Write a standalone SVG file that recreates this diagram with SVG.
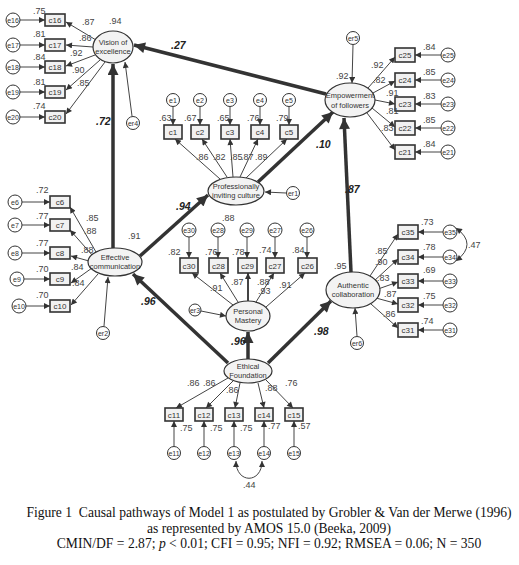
<svg xmlns="http://www.w3.org/2000/svg" width="519" height="565" viewBox="0 0 519 565">
<defs>
<marker id="a" viewBox="0 0 10 10" refX="10" refY="5" markerWidth="8" markerHeight="6" markerUnits="userSpaceOnUse" orient="auto-start-reverse"><path d="M0,0 L10,5 L0,10 z" fill="#333"/></marker>
<marker id="b" viewBox="0 0 10 10" refX="10" refY="5" markerWidth="13" markerHeight="11" markerUnits="userSpaceOnUse" orient="auto"><path d="M0,0 L10,5 L0,10 z" fill="#333"/></marker>
</defs>
<style>
.t{stroke:#444;stroke-width:1;fill:none;marker-end:url(#a)}
.k{stroke:#333;stroke-width:3.5;fill:none;marker-end:url(#b)}
.lv{fill:#f3f3f3;stroke:#333;stroke-width:1.2}
.ob{fill:#f1f1f1;stroke:#333;stroke-width:1.6}
.er{fill:#fff;stroke:#333;stroke-width:1}
text{font-family:"Liberation Sans",Arial,sans-serif;fill:#444}
.n{font-size:9px}
.bl{font-size:10.5px;font-weight:bold;font-style:italic;fill:#222}
.lt{font-size:7.5px;text-anchor:middle;fill:#333}
.ct{font-size:8px;text-anchor:middle;fill:#333}
.et{font-size:7px;text-anchor:middle;fill:#333}
.cap{font-family:"Liberation Serif","Times New Roman",serif;font-size:13.6px;fill:#111;text-anchor:middle}
</style>
<rect width="519" height="565" fill="#fff"/>
<g id="connectors">
<path class="k" d="M326,94 L134,45"/>
<path class="k" d="M113,248 L113,64"/>
<path class="k" d="M140,256 L208,195"/>
<path class="k" d="M258,182 L333,112"/>
<path class="k" d="M351,272 L344,118"/>
<path class="k" d="M248,359 L248,332"/>
<path class="k" d="M228,363 L133,274"/>
<path class="k" d="M268,363 L331,301"/>
<path class="t" d="M96,40 L66,22"/><path class="t" d="M93,47 L66,45"/><path class="t" d="M95,55 L66,66"/><path class="t" d="M100,60 L66,90"/><path class="t" d="M105,62 L66,114"/>
<path class="t" d="M20,20 L45,20"/><path class="t" d="M20,45 L45,45"/><path class="t" d="M20,67 L45,67"/><path class="t" d="M20,92 L45,92"/><path class="t" d="M20,117 L45,117"/>
<path class="t" d="M132,116 L125,62"/>
<path class="t" d="M96,252 L70,207"/><path class="t" d="M93,256 L70,230"/><path class="t" d="M89,261 L71,256"/><path class="t" d="M92,268 L71,283"/><path class="t" d="M98,274 L71,305"/>
<path class="t" d="M22,202 L50,202"/><path class="t" d="M22,225 L50,225"/><path class="t" d="M22,253 L50,253"/><path class="t" d="M24,279 L50,279"/><path class="t" d="M26,306 L50,306"/>
<path class="t" d="M104,326 L108,277"/>
<path class="t" d="M220,179 L175,139"/><path class="t" d="M227,177 L202,139"/><path class="t" d="M233,177 L230,139"/><path class="t" d="M240,177 L258,139"/><path class="t" d="M246,178 L287,139"/>
<path class="t" d="M173,107 L173,125"/><path class="t" d="M200,107 L200,125"/><path class="t" d="M230,107 L230,125"/><path class="t" d="M260,107 L260,125"/><path class="t" d="M289,107 L289,125"/>
<path class="t" d="M286,193 L265,192"/>
<path class="t" d="M368,88 L395,57"/><path class="t" d="M373,93 L395,81"/><path class="t" d="M375,100 L395,104"/><path class="t" d="M372,108 L395,127"/><path class="t" d="M367,113 L395,150"/>
<path class="t" d="M441,55 L415,55"/><path class="t" d="M441,80 L415,80"/><path class="t" d="M441,104 L415,104"/><path class="t" d="M441,128 L415,128"/><path class="t" d="M441,152 L415,152"/>
<path class="t" d="M353,45 L352,83"/>
<path class="t" d="M370,276 L398,234"/><path class="t" d="M374,281 L398,259"/><path class="t" d="M378,289 L398,282"/><path class="t" d="M376,298 L398,304"/><path class="t" d="M371,304 L398,328"/>
<path class="t" d="M443,232 L418,232"/><path class="t" d="M443,257 L418,257"/><path class="t" d="M443,281 L418,281"/><path class="t" d="M443,305 L418,305"/><path class="t" d="M443,330 L418,330"/>
<path class="t" d="M456,228 Q478,244 456,261" style="marker-start:url(#a)"/>
<path class="t" d="M357,336 L355,308"/>
<path class="t" d="M233,305 L192,273"/><path class="t" d="M238,302 L220,273"/><path class="t" d="M248,301 L248,273" style="stroke-width:2"/><path class="t" d="M256,302 L274,273"/><path class="t" d="M266,307 L305,273"/>
<path class="t" d="M189,237 L189,258"/><path class="t" d="M218,237 L218,258"/><path class="t" d="M247,237 L247,258"/><path class="t" d="M275,237 L275,258"/><path class="t" d="M307,237 L307,258"/>
<path class="t" d="M201,311 L226,316"/>
<path class="t" d="M228,378 L176,408"/><path class="t" d="M233,381 L206,408"/><path class="t" d="M240,383 L235,408"/><path class="t" d="M258,383 L264,408"/><path class="t" d="M266,380 L293,408"/>
<path class="t" d="M174,446 L174,421"/><path class="t" d="M204,446 L204,421"/><path class="t" d="M234,446 L234,421"/><path class="t" d="M264,446 L264,421"/><path class="t" d="M294,446 L294,421"/>
<path class="t" d="M236,461 C236,484 262,484 262,461" style="marker-start:url(#a)"/>
</g>
<g id="vision"><ellipse class="lv" cx="113" cy="47" rx="20" ry="16"/><text class="lt" x="113" y="45">Vision of</text><text class="lt" x="113" y="54">excellence</text></g>
<g id="effective"><ellipse class="lv" cx="115" cy="262" rx="27" ry="14"/><text class="lt" x="115" y="260">Effective</text><text class="lt" x="115" y="269">communication</text></g>
<g id="professional"><ellipse class="lv" cx="236" cy="191" rx="28" ry="14"/><text class="lt" x="236" y="189">Professionally</text><text class="lt" x="236" y="198">inviting culture</text></g>
<g id="empowerment"><ellipse class="lv" cx="350" cy="100" rx="25" ry="17"/><text class="lt" x="350" y="98">Empowerment</text><text class="lt" x="350" y="108">of followers</text></g>
<g id="authentic"><ellipse class="lv" cx="353" cy="290" rx="27" ry="18"/><text class="lt" x="353" y="288">Authentic</text><text class="lt" x="353" y="297">collaboration</text></g>
<g id="mastery"><ellipse class="lv" cx="248" cy="316" rx="22" ry="15"/><text class="lt" x="248" y="314">Personal</text><text class="lt" x="248" y="323">Mastery</text></g>
<g id="ethical"><ellipse class="lv" cx="248" cy="371" rx="24" ry="12"/><text class="lt" x="248" y="369">Ethical</text><text class="lt" x="248" y="378">Foundation</text></g>
<g id="vision-items">
<rect class="ob" x="45" y="14" width="20" height="12"/><text class="ct" x="55" y="23">c16</text>
<rect class="ob" x="45" y="39" width="20" height="12"/><text class="ct" x="55" y="48">c17</text>
<rect class="ob" x="45" y="61" width="20" height="12"/><text class="ct" x="55" y="70">c18</text>
<rect class="ob" x="45" y="86" width="20" height="12"/><text class="ct" x="55" y="95">c19</text>
<rect class="ob" x="45" y="111" width="20" height="12"/><text class="ct" x="55" y="120">c20</text>
<circle class="er" cx="13" cy="20" r="7"/><text class="et" x="13" y="22.5">e16</text>
<circle class="er" cx="13" cy="45" r="7"/><text class="et" x="13" y="47.5">e17</text>
<circle class="er" cx="13" cy="67" r="7"/><text class="et" x="13" y="69.5">e18</text>
<circle class="er" cx="13" cy="92" r="7"/><text class="et" x="13" y="94.5">e19</text>
<circle class="er" cx="13" cy="117" r="7"/><text class="et" x="13" y="119.5">e20</text>
<circle class="er" cx="133" cy="123" r="6.5"/><text class="et" x="133" y="125.5">er4</text>
</g>
<g id="effective-items">
<rect class="ob" x="50" y="196" width="20" height="12"/><text class="ct" x="60" y="205">c6</text>
<rect class="ob" x="50" y="219" width="20" height="12"/><text class="ct" x="60" y="228">c7</text>
<rect class="ob" x="50" y="247" width="20" height="12"/><text class="ct" x="60" y="256">c8</text>
<rect class="ob" x="50" y="273" width="20" height="12"/><text class="ct" x="60" y="282">c9</text>
<rect class="ob" x="50" y="300" width="20" height="12"/><text class="ct" x="60" y="309">c10</text>
<circle class="er" cx="15" cy="202" r="7"/><text class="et" x="15" y="204.5">e6</text>
<circle class="er" cx="15" cy="225" r="7"/><text class="et" x="15" y="227.5">e7</text>
<circle class="er" cx="15" cy="253" r="7"/><text class="et" x="15" y="255.5">e8</text>
<circle class="er" cx="17" cy="279" r="7"/><text class="et" x="17" y="281.5">e9</text>
<circle class="er" cx="19" cy="306" r="7"/><text class="et" x="19" y="308.5">e10</text>
<circle class="er" cx="103" cy="333" r="6.5"/><text class="et" x="103" y="335.5">er2</text>
</g>
<g id="professional-items">
<rect class="ob" x="164" y="125" width="18" height="14"/><text class="ct" x="173" y="135">c1</text>
<rect class="ob" x="191" y="125" width="18" height="14"/><text class="ct" x="200" y="135">c2</text>
<rect class="ob" x="221" y="125" width="18" height="14"/><text class="ct" x="230" y="135">c3</text>
<rect class="ob" x="251" y="125" width="18" height="14"/><text class="ct" x="260" y="135">c4</text>
<rect class="ob" x="280" y="125" width="18" height="14"/><text class="ct" x="289" y="135">c5</text>
<circle class="er" cx="173" cy="100" r="6.5"/><text class="et" x="173" y="102.5">e1</text>
<circle class="er" cx="200" cy="100" r="6.5"/><text class="et" x="200" y="102.5">e2</text>
<circle class="er" cx="230" cy="100" r="6.5"/><text class="et" x="230" y="102.5">e3</text>
<circle class="er" cx="260" cy="100" r="6.5"/><text class="et" x="260" y="102.5">e4</text>
<circle class="er" cx="289" cy="100" r="6.5"/><text class="et" x="289" y="102.5">e5</text>
<circle class="er" cx="293" cy="193" r="6.5"/><text class="et" x="293" y="195.5">er1</text>
</g>
<g id="empowerment-items">
<rect class="ob" x="395" y="48" width="20" height="14"/><text class="ct" x="405" y="58">c25</text>
<rect class="ob" x="395" y="73" width="20" height="14"/><text class="ct" x="405" y="83">c24</text>
<rect class="ob" x="395" y="97" width="20" height="14"/><text class="ct" x="405" y="107">c23</text>
<rect class="ob" x="395" y="121" width="20" height="14"/><text class="ct" x="405" y="131">c22</text>
<rect class="ob" x="395" y="145" width="20" height="14"/><text class="ct" x="405" y="155">c21</text>
<circle class="er" cx="448" cy="55" r="7"/><text class="et" x="448" y="57.5">e25</text>
<circle class="er" cx="448" cy="80" r="7"/><text class="et" x="448" y="82.5">e24</text>
<circle class="er" cx="448" cy="104" r="7"/><text class="et" x="448" y="106.5">e23</text>
<circle class="er" cx="448" cy="128" r="7"/><text class="et" x="448" y="130.5">e22</text>
<circle class="er" cx="448" cy="152" r="7"/><text class="et" x="448" y="154.5">e21</text>
<circle class="er" cx="353" cy="38" r="6.5"/><text class="et" x="353" y="40.5">er5</text>
</g>
<g id="authentic-items">
<rect class="ob" x="398" y="225" width="20" height="14"/><text class="ct" x="408" y="235">c35</text>
<rect class="ob" x="398" y="250" width="20" height="14"/><text class="ct" x="408" y="260">c34</text>
<rect class="ob" x="398" y="274" width="20" height="14"/><text class="ct" x="408" y="284">c33</text>
<rect class="ob" x="398" y="298" width="20" height="14"/><text class="ct" x="408" y="308">c32</text>
<rect class="ob" x="398" y="323" width="20" height="14"/><text class="ct" x="408" y="333">c31</text>
<circle class="er" cx="450" cy="232" r="7"/><text class="et" x="450" y="234.5">e35</text>
<circle class="er" cx="450" cy="257" r="7"/><text class="et" x="450" y="259.5">e34</text>
<circle class="er" cx="450" cy="281" r="7"/><text class="et" x="450" y="283.5">e33</text>
<circle class="er" cx="450" cy="305" r="7"/><text class="et" x="450" y="307.5">e32</text>
<circle class="er" cx="450" cy="330" r="7"/><text class="et" x="450" y="332.5">e31</text>
<circle class="er" cx="357" cy="343" r="6.5"/><text class="et" x="357" y="345.5">er6</text>
</g>
<g id="mastery-items">
<rect class="ob" x="180" y="258" width="18" height="15"/><text class="ct" x="189" y="268.5">c30</text>
<rect class="ob" x="209" y="258" width="19" height="15"/><text class="ct" x="218.5" y="268.5">c28</text>
<rect class="ob" x="238" y="258" width="19" height="15"/><text class="ct" x="247.5" y="268.5">c29</text>
<rect class="ob" x="266" y="258" width="18" height="15"/><text class="ct" x="275" y="268.5">c27</text>
<rect class="ob" x="298" y="258" width="19" height="15"/><text class="ct" x="307.5" y="268.5">c26</text>
<circle class="er" cx="189" cy="230" r="7"/><text class="et" x="189" y="232.5">e30</text>
<circle class="er" cx="218" cy="230" r="7"/><text class="et" x="218" y="232.5">e28</text>
<circle class="er" cx="247" cy="230" r="7"/><text class="et" x="247" y="232.5">e29</text>
<circle class="er" cx="275" cy="230" r="7"/><text class="et" x="275" y="232.5">e27</text>
<circle class="er" cx="307" cy="230" r="7"/><text class="et" x="307" y="232.5">e26</text>
<circle class="er" cx="195" cy="310" r="6"/><text class="et" x="195" y="312.5">er3</text>
</g>
<g id="ethical-items">
<rect class="ob" x="165" y="408" width="18" height="13"/><text class="ct" x="174" y="417.5">c11</text>
<rect class="ob" x="195" y="408" width="18" height="13"/><text class="ct" x="204" y="417.5">c12</text>
<rect class="ob" x="225" y="408" width="18" height="13"/><text class="ct" x="234" y="417.5">c13</text>
<rect class="ob" x="255" y="408" width="18" height="13"/><text class="ct" x="264" y="417.5">c14</text>
<rect class="ob" x="285" y="408" width="18" height="13"/><text class="ct" x="294" y="417.5">c15</text>
<circle class="er" cx="174" cy="453" r="6.5"/><text class="et" x="174" y="455.5">e11</text>
<circle class="er" cx="204" cy="453" r="6.5"/><text class="et" x="204" y="455.5">e12</text>
<circle class="er" cx="234" cy="453" r="6.5"/><text class="et" x="234" y="455.5">e13</text>
<circle class="er" cx="264" cy="453" r="6.5"/><text class="et" x="264" y="455.5">e14</text>
<circle class="er" cx="294" cy="453" r="6.5"/><text class="et" x="294" y="455.5">e15</text>
</g>
<g id="labels">
<text class="n" x="33" y="14">.75</text><text class="n" x="33" y="37">.81</text><text class="n" x="33" y="60">.84</text><text class="n" x="33" y="85">.81</text><text class="n" x="33" y="109">.74</text>
<text class="n" x="82" y="25">.87</text><text class="n" x="109" y="24">.94</text><text class="n" x="79" y="41">.86</text><text class="n" x="70" y="56">.92</text><text class="n" x="72" y="73">.90</text><text class="n" x="77" y="86">.85</text>
<text class="n" x="36" y="193">.72</text><text class="n" x="36" y="219">.77</text><text class="n" x="36" y="246">.77</text><text class="n" x="36" y="272">.70</text><text class="n" x="36" y="298">.70</text>
<text class="n" x="86" y="221">.85</text><text class="n" x="84" y="234">.88</text><text class="n" x="81" y="253">.88</text><text class="n" x="71" y="270">.84</text><text class="n" x="72" y="286">.84</text>
<text class="n" x="128" y="239">.91</text>
<text class="n" x="159" y="121">.63</text><text class="n" x="184" y="121">.67</text><text class="n" x="217" y="121">.65</text><text class="n" x="247" y="121">.76</text><text class="n" x="276" y="121">.79</text>
<text class="n" x="196" y="160">.86</text><text class="n" x="213" y="160">.82</text><text class="n" x="230" y="160">.85</text><text class="n" x="241" y="160">.87</text><text class="n" x="255" y="160">.89</text>
<text class="n" x="336" y="79">.92</text>
<text class="n" x="423" y="50">.84</text><text class="n" x="423" y="75">.85</text><text class="n" x="423" y="99">.83</text><text class="n" x="423" y="123">.85</text><text class="n" x="423" y="147">.84</text>
<text class="n" x="371" y="68">.92</text><text class="n" x="373" y="83">.82</text><text class="n" x="386" y="96">.91</text><text class="n" x="386" y="114">.81</text><text class="n" x="381" y="131">.83</text>
<text class="n" x="334" y="269">.95</text>
<text class="n" x="421" y="225">.73</text><text class="n" x="423" y="250">.78</text><text class="n" x="423" y="273">.69</text><text class="n" x="423" y="299">.75</text><text class="n" x="421" y="324">.74</text>
<text class="n" x="375" y="254">.85</text><text class="n" x="375" y="265">.90</text><text class="n" x="377" y="281">.83</text><text class="n" x="384" y="297">.87</text><text class="n" x="383" y="317">.86</text>
<text class="n" x="468" y="248">.47</text>
<text class="n" x="222" y="221">.88</text>
<text class="n" x="168" y="255">.82</text><text class="n" x="205" y="255">.76</text><text class="n" x="232" y="255">.78</text><text class="n" x="259" y="253">.74</text><text class="n" x="292" y="253">.84</text>
<text class="n" x="210" y="291">.91</text><text class="n" x="231" y="285">.87</text><text class="n" x="257" y="285">.88</text><text class="n" x="258" y="294">.93</text><text class="n" x="279" y="288">.91</text>
<text class="n" x="187" y="386">.86</text><text class="n" x="203" y="386">.86</text><text class="n" x="226" y="393">.86</text><text class="n" x="265" y="391">.88</text><text class="n" x="285" y="386">.76</text>
<text class="n" x="180" y="431">.75</text><text class="n" x="210" y="431">.75</text><text class="n" x="240" y="431">.75</text><text class="n" x="268" y="429">.77</text><text class="n" x="298" y="429">.57</text>
<text class="n" x="243" y="488">.44</text>
<text class="bl" x="171" y="49">.27</text><text class="bl" x="96" y="125">.72</text><text class="bl" x="176" y="210">.94</text><text class="bl" x="316" y="148">.10</text><text class="bl" x="345" y="193">.87</text><text class="bl" x="141" y="305">.96</text><text class="bl" x="231" y="345">.96</text><text class="bl" x="314" y="335">.98</text>
</g>
<g id="caption">
<text class="cap" x="269" y="517" xml:space="preserve">Figure 1&#160; Causal pathways of Model 1 as postulated by Grobler &amp; Van der Merwe (1996)</text>
<text class="cap" x="269" y="533">as represented by AMOS 15.0 (Beeka, 2009)</text>
<text class="cap" x="269" y="548">CMIN/DF = 2.87; <tspan font-style="italic">p</tspan> &lt; 0.01; CFI = 0.95; NFI = 0.92; RMSEA = 0.06; N = 350</text>
</g>
</svg>
